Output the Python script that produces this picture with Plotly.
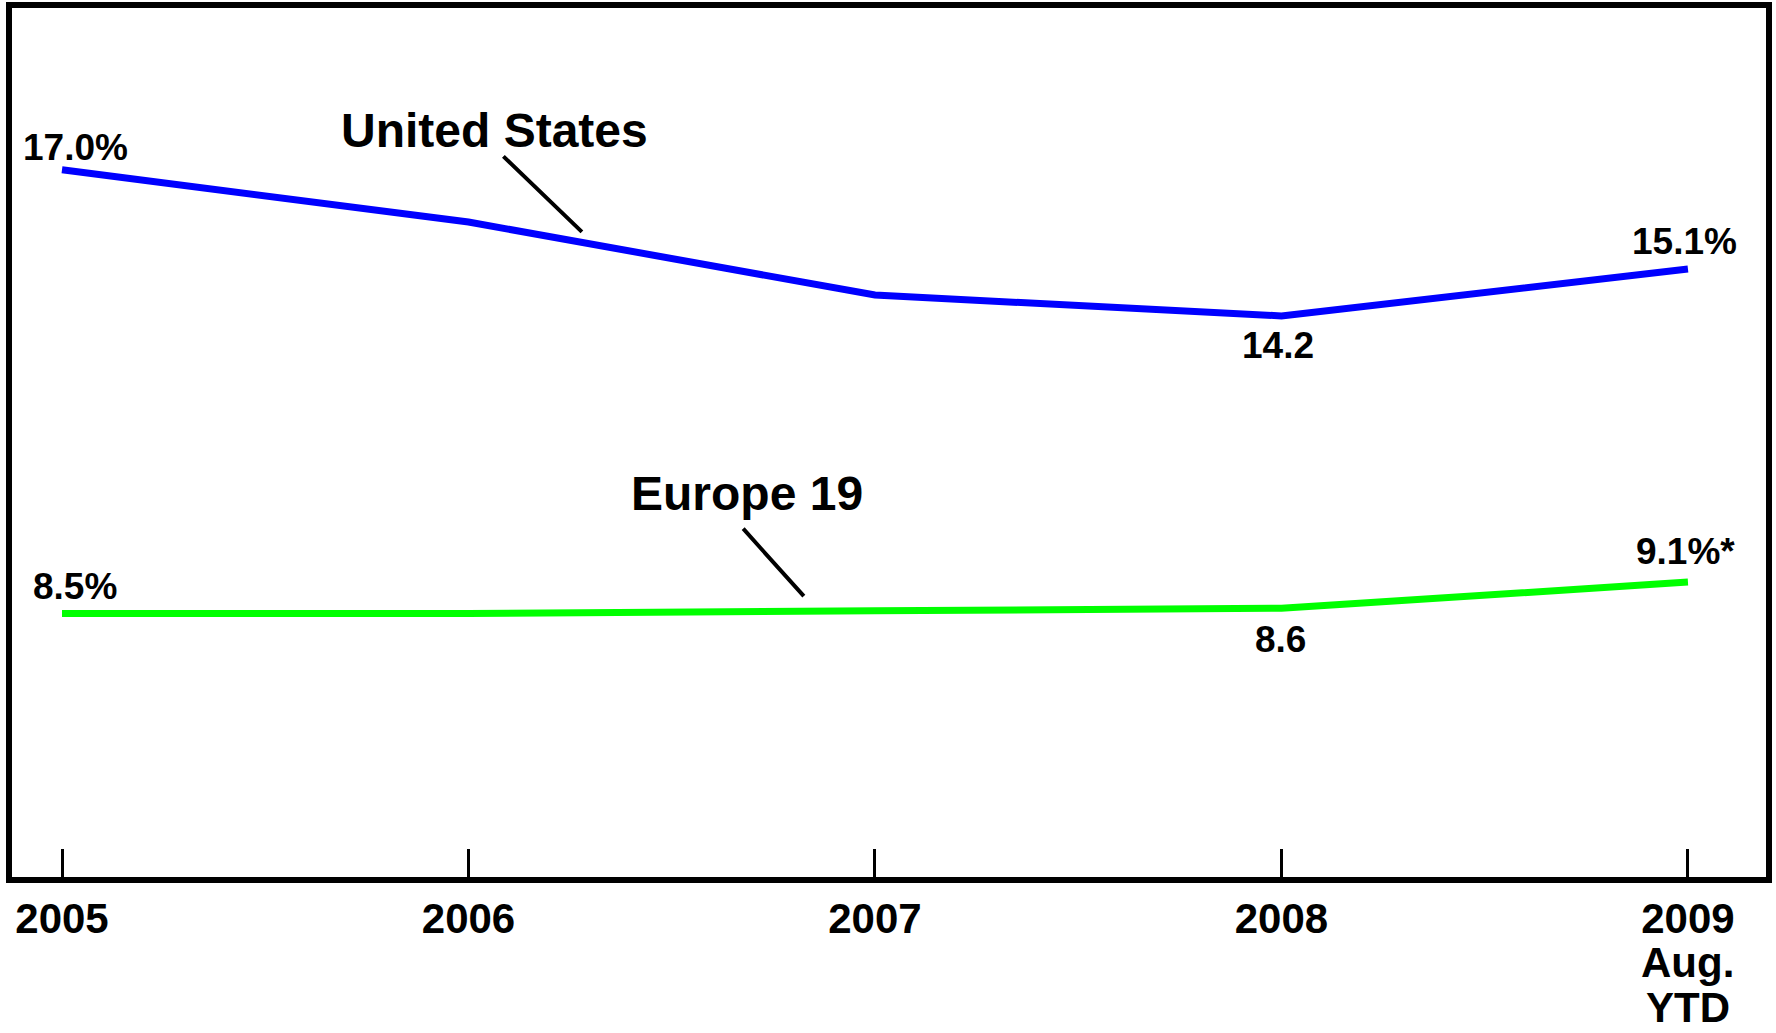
import plotly.graph_objects as go

# ---- data ----
categories = ["2005", "2006", "2007", "2008", "2009"]
tick_labels = ["2005", "2006", "2007", "2008", "2009"]
last_tick_sublines = ["Aug.", "YTD"]
us_values = [17.0, 16.0, 14.6, 14.2, 15.1]
eu_values = [8.5, 8.5, 8.55, 8.6, 9.1]
us_labels = ["17.0%", "", "", "14.2", "15.1%"]
eu_labels = ["8.5%", "", "", "8.6", "9.1%*"]
series_names = ["United States", "Europe 19"]

FONT = "Liberation Sans, Arial, sans-serif"
x_idx = list(range(len(categories)))

fig = go.Figure()
fig.add_trace(go.Scatter(x=x_idx, y=us_values, mode="lines",
                         line=dict(color="#0000FF", width=7), name=series_names[0],
                         hoverinfo="skip"))
fig.add_trace(go.Scatter(x=x_idx, y=eu_values, mode="lines",
                         line=dict(color="#00FF00", width=7), name=series_names[1],
                         hoverinfo="skip"))

# value labels: (xshift, yshift) per point
us_shifts = [(13, 22), None, None, (-3, -30), (-3, 27)]
eu_shifts = [(13, 27), None, None, (-1, -31), (-2, 31)]
for vals, labs, shifts in [(us_values, us_labels, us_shifts), (eu_values, eu_labels, eu_shifts)]:
    for i, (v, t, s) in enumerate(zip(vals, labs, shifts)):
        if not t:
            continue
        fig.add_annotation(x=i, y=v, text=t, showarrow=False,
                           xshift=s[0], yshift=s[1], xanchor="center", yanchor="middle",
                           font=dict(family=FONT, size=37, color="black", weight="bold"))

# series name callouts
fig.add_annotation(x=1.064, y=17.75, text=series_names[0], showarrow=False,
                   xanchor="center", yanchor="middle",
                   font=dict(family=FONT, size=48, color="black", weight="bold"))
fig.add_annotation(x=1.686, y=10.80, text=series_names[1], showarrow=False,
                   xanchor="center", yanchor="middle",
                   font=dict(family=FONT, size=48, color="black", weight="bold"))
# leader lines
fig.add_annotation(x=1.279, y=15.81, ax=-80, ay=-77, text="", showarrow=True,
                   arrowhead=0, arrowwidth=4, arrowcolor="black", standoff=0, startstandoff=0)
fig.add_annotation(x=1.825, y=8.83, ax=-62, ay=-69, text="", showarrow=True,
                   arrowhead=0, arrowwidth=4, arrowcolor="black", standoff=0, startstandoff=0)

# extra lines under the last tick label ("2009 / Aug. / YTD")
for txt, dy in zip(last_tick_sublines, [-85, -130]):
    fig.add_annotation(x=x_idx[-1], y=0, yref="paper", text=txt, showarrow=False,
                       xanchor="center", yanchor="middle", yshift=dy,
                       font=dict(family=FONT, size=42, color="black", weight="bold"))

fig.update_layout(
    width=1776, height=1033,
    margin=dict(l=12, r=10, t=8, b=156),
    paper_bgcolor="white", plot_bgcolor="white",
    showlegend=False,
    xaxis=dict(range=[-0.123, 4.192], tickmode="array", tickvals=x_idx, ticktext=tick_labels,
               showgrid=False, zeroline=False, showline=True, mirror=True,
               linecolor="black", linewidth=6, automargin=False,
               ticks="inside", ticklen=28, tickwidth=3, tickcolor="black",
               tickfont=dict(family=FONT, size=42, color="black", weight="bold")),
    yaxis=dict(range=[3.45, 20.10], showgrid=False, zeroline=False, showline=True, mirror=True,
               linecolor="black", linewidth=6, showticklabels=False, ticks="",
               automargin=False),
)

fig.write_html("out.html")
